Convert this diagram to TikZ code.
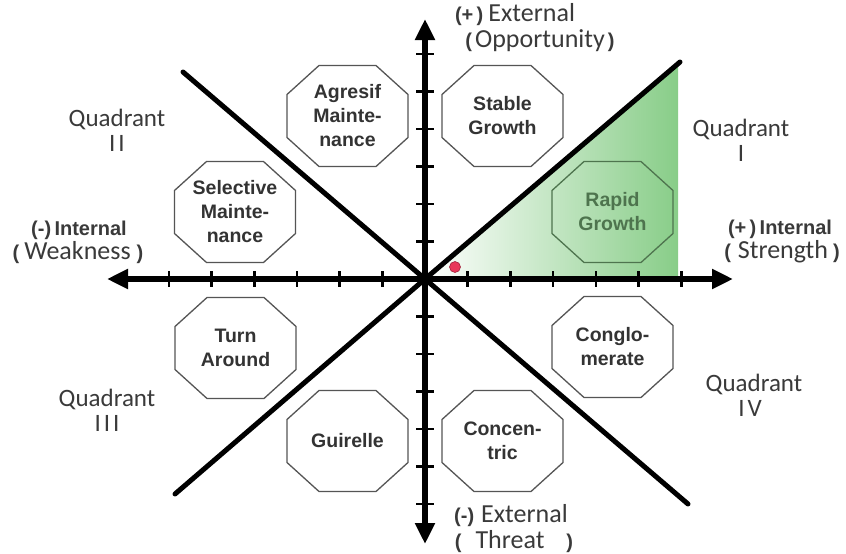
\documentclass[tikz,border=0pt]{standalone}
\usepackage{fontspec}
\setmainfont{Liberation Sans}
\newfontfamily\calib{Carlito}
\usetikzlibrary{arrows.meta,calc}
\definecolor{octgray}{HTML}{555555}
\definecolor{txtgray}{HTML}{333333}
\definecolor{lblgray}{HTML}{3A3A3A}
\definecolor{rgreen}{HTML}{88CD88}
\definecolor{dgreen}{HTML}{4E744E}
\definecolor{dotred}{HTML}{E8385A}
\tikzset{
  axisline/.style={line width=5.5pt, black},
  tickmark/.style={line width=2.6pt, black},
  diag/.style={line width=5pt, black, line cap=round},
  octline/.style={draw=octgray, line width=1.3pt, line join=miter},
  octtxt/.style={font=\fontsize{19.5}{24}\selectfont\bfseries, text=txtgray, align=center, inner sep=0pt},
  qlabel/.style={font=\calib\fontsize{25}{25}\selectfont, text=lblgray, inner sep=0pt, align=center},
  blabel/.style={font=\fontsize{20}{22}\selectfont\bfseries, text=lblgray, inner sep=0pt},
}
\newcommand\calibt[1]{{\calib\fontsize{26}{26}\selectfont #1}}
\newcommand\bpar[1]{{\bfseries\fontsize{20}{22}\selectfont #1}}
\newcommand\octaround[2][]{%
  \draw[octline,#1] ($(#2.center)+(-60.5,-21.5)$) -- ++(0,43) -- ++(32,29) -- ++(57,0)
    -- ++(32,-29) -- ++(0,-43) -- ++(-32,-29) -- ++(-57,0) -- cycle;}
\begin{document}
\begin{tikzpicture}[x=1pt,y=-1pt]
\useasboundingbox[fill=white] (0,0) rectangle (846,554);
% key points
\coordinate (O) at (425,279);
\coordinate (UL) at (183,72);
\coordinate (LR) at (688,504);
\coordinate (LL) at (175,494);
\coordinate (UR) at (680,62);
\coordinate (GT) at (678,64);
\coordinate (GB) at (678,279);
% green region
\shade[left color=white, right color=rgreen] (O) -- (GT) -- (GB) -- cycle;
% octagons
\node[octtxt] (ag) at (347.5,116) {Agresif\\Mainte-\\nance};
\octaround{ag}
\node[octtxt] (sg) at (502.5,116) {Stable\\Growth};
\octaround{sg}
\node[octtxt] (sm) at (235,212) {Selective\\Mainte-\\nance};
\octaround{sm}
\node[octtxt, text=dgreen] (rg) at (612.5,212) {Rapid\\Growth};
\octaround[draw=dgreen]{rg}
\node[octtxt] (ta) at (235.5,348) {Turn\\Around};
\octaround{ta}
\node[octtxt] (cg) at (612.5,347) {Conglo-\\merate};
\octaround{cg}
\node[octtxt] (gu) at (347.5,441) {Guirelle};
\octaround{gu}
\node[octtxt] (cc) at (502.5,441) {Concen-\\tric};
\octaround{cc}
% diagonals
\draw[diag] (UL) -- (O) -- (LR);
\draw[diag] (LL) -- (O) -- (UR);
% axes
\coordinate (AL) at (107,279);
\coordinate (AR) at (733,279);
\coordinate (AT) at (425,19);
\coordinate (AB) at (425,544);
\draw[axisline, {Triangle[width=19pt,length=21pt]}-{Triangle[width=19pt,length=21pt]}] (AL) -- (AR);
\draw[axisline, {Triangle[width=19pt,length=21pt]}-{Triangle[width=19pt,length=21pt]}] (AT) -- (AB);
\foreach \k in {1,...,6} {
  \draw[tickmark] ($(O)+(42.7*\k,-8)$) -- ++(0,16);
  \draw[tickmark] ($(O)+(-42.7*\k,-8)$) -- ++(0,16);
  \draw[tickmark] ($(O)+(-9,37.5*\k)$) -- ++(18,0);
  \draw[tickmark] ($(O)+(-9,-37.5*\k)$) -- ++(18,0);
}
% red dot
\node[circle, fill=dotred, draw=dotred!70!black, line width=0.6pt, minimum size=11pt, inner sep=0pt] (dot) at (455,267) {};
% labels
\node[inner sep=0pt, text=lblgray] (ext1) at (515,15) {\bpar{(+\,)}\hspace{5pt}\calibt{External}};
\node[inner sep=0pt, text=lblgray] (opp) at (540,41) {\bpar{(}\hspace{3pt}\calibt{Opportunity}\hspace{3pt}\bpar{)}};
\node[blabel] (iw) at (79,230) {(-)\,Internal};
\node[inner sep=0pt, text=lblgray] (wk) at (78,253) {\bpar{(}\hspace{5pt}\calibt{Weakness}\hspace{6pt}\bpar{)}};
\node[blabel] (is) at (780,229) {(+\,)\,Internal};
\node[inner sep=0pt, text=lblgray] (st) at (782,252) {\bpar{(}\hspace{7pt}\calibt{Strength}\hspace{5pt}\bpar{)}};
\node[inner sep=0pt, text=lblgray] (ext2) at (511,516) {\bpar{(-)}\hspace{7pt}\calibt{External}};
\node[inner sep=0pt, text=lblgray] (th) at (514,542) {\bpar{(}\hspace{14pt}\calibt{Threat}\hspace{22pt}\bpar{)}};
\node[qlabel] (q2) at (117,130) {Quadrant\\I\hspace{3pt}I};
\node[qlabel] (q1) at (741,140) {Quadrant\\I};
\node[qlabel] (q3) at (107,410) {Quadrant\\I\hspace{3pt}I\hspace{3pt}I};
\node[qlabel] (q4) at (754,395) {Quadrant\\\hspace{-8pt}I\hspace{3pt}V};
\end{tikzpicture}
\end{document}
